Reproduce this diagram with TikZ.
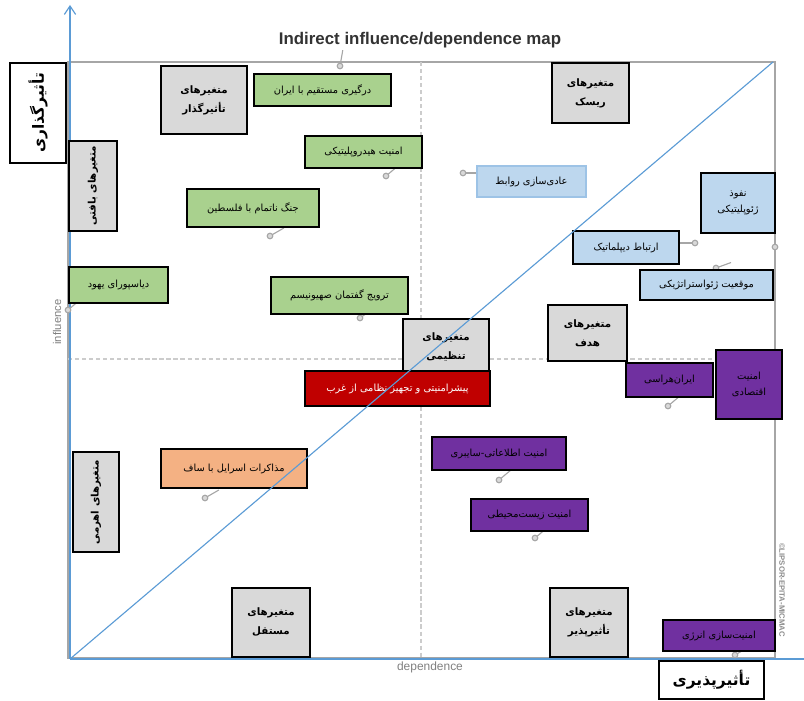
\documentclass[tikz,border=0pt]{standalone}
\usepackage{fontspec}
\setmainfont{Liberation Sans}
\newfontfamily\farsi[Script=Arabic]{DejaVu Sans}
\TeXXeTstate=1
\newcommand\fa[1]{{\farsi\beginR #1\endR}}
\usetikzlibrary{arrows.meta}
\definecolor{axisblue}{HTML}{5B9BD5}
\definecolor{framegray}{HTML}{A6A6A6}
\definecolor{boxgray}{HTML}{D9D9D9}
\definecolor{grnfill}{HTML}{A9D18E}
\definecolor{bluefill}{HTML}{BDD7EE}
\definecolor{blueedge}{HTML}{9DC3E6}
\definecolor{redfill}{HTML}{C00000}
\definecolor{orgfill}{HTML}{F4B183}
\definecolor{purfill}{HTML}{7030A0}
\begin{document}
\begin{tikzpicture}[x=0.025cm,y=-0.025cm,
    box/.style 2 args={draw=black,line width=0.9pt,minimum width=#1*0.025cm,minimum height=#2*0.025cm,
      inner sep=1pt,align=center,font=\fontsize{7}{11}\selectfont},
    cat/.style={fill=boxgray,font=\bfseries\fontsize{7.3}{13.5}\selectfont},
    grn/.style={fill=grnfill},
    blu/.style={fill=bluefill},
    pur/.style={fill=purfill},
    pin/.style={draw=gray!70,line width=0.8pt}]
\useasboundingbox (0,0) rectangle (804,701);

\node[font=\bfseries\fontsize{12}{14}\selectfont,text=black!80] (title) at (420,40) {Indirect influence/dependence map};
\node[rotate=90,font=\fontsize{8}{9}\selectfont,text=gray] (infl) at (57,322) {influence};
\node[font=\fontsize{8.5}{10}\selectfont,text=gray] (dep) at (430,667) {dependence};
\node[rotate=-90,font=\bfseries\fontsize{5.5}{6}\selectfont,text=gray!90] (wm) at (782,590) {©LIPSOR-EPITA-MICMAC};

\draw[framegray,line width=1.3pt] (68,62) rectangle (775,658);
\draw[gray!40,densely dashed,line width=0.8pt] (421,62) -- (421,658);
\draw[gray!40,densely dashed,line width=0.8pt] (68,359) -- (775,359);

\coordinate (o) at (70,659);
\coordinate (ytop) at (70,5);
\coordinate (xend) at (804,659);
\coordinate (dtop) at (773,62);
\draw[axisblue,line width=0.8pt,-{Straight Barb[length=6pt,width=8pt]}] (o) -- (ytop);
\draw[axisblue,line width=0.8pt] (o) -- (xend);

\foreach \x/\y/\a in {340/66/-80,386/176/-40,463/173/0,270/236/-30,68/310/-40,360/318/-35,
    695/243/180,775/247/-90,716/268/-20,668/406/-40,205/498/-30,499/480/-40,535/538/-40,735/655/-30}{
  \draw[pin] (\x,\y) -- ++(\a:16);
  \filldraw[pin,fill=gray!30] (\x,\y) circle[radius=0.07cm];
}

\node[box={86}{68},cat] (gozar) at (204,100) {\fa{متغیرهای}\\\fa{تأثیرگذار}};
\node[box={77}{60},cat] (risk) at (590.5,93) {\fa{متغیرهای}\\\fa{ریسک}};
\node[box={90}{48},cat,rotate=90] (bafti) at (93,186) {\fa{متغیرهای بافتی}};
\node[box={86}{55},cat] (tanzim) at (446,346.5) {\fa{متغیرهای}\\\fa{تنظیمی}};
\node[box={79}{56},cat] (hadaf) at (587.5,333) {\fa{متغیرهای}\\\fa{هدف}};
\node[box={100}{46},cat,rotate=90] (ahrami) at (96,502) {\fa{متغیرهای اهرمی}};
\node[box={78}{69},cat] (mostaghel) at (271,622.5) {\fa{متغیرهای}\\\fa{مستقل}};
\node[box={78}{69},cat] (pazir) at (589,622.5) {\fa{متغیرهای}\\\fa{تأثیرپذیر}};

\node[box={137}{32},grn] (dargiri) at (322.5,90) {\fa{درگیری مستقیم با ایران}};
\node[box={117}{32},grn] (hydro) at (363.5,152) {\fa{امنیت هیدروپلیتیکی}};
\node[box={132}{38},grn] (jang) at (253,208) {\fa{جنگ ناتمام با فلسطین}};
\node[box={137}{37},grn] (tarvij) at (339.5,295.5) {\fa{ترویج گفتمان صهیونیسم}};
\node[box={99}{36},grn] (diaspora) at (118.5,285) {\fa{دیاسپورای یهود}};

\node[box={109}{31},blu,draw=blueedge] (adi) at (531.5,181.5) {\fa{عادی‌سازی روابط}};
\node[box={74}{60},blu] (nofuz) at (738,203) {\fa{نفوذ}\\\fa{ژئوپلیتیکی}};
\node[box={106}{33},blu] (ertebat) at (626,247.5) {\fa{ارتباط دیپلماتیک}};
\node[box={133}{30},blu] (moghei) at (706.5,285) {\fa{موقعیت ژئواستراتژیکی}};

\node[box={185}{35},fill=redfill,text=white] (pishran) at (397.5,388.5) {\fa{پیشرامنیتی و تجهیز نظامی از غرب}};
\node[box={146}{39},fill=orgfill] (mozakere) at (234,468.5) {\fa{مذاکرات اسرایل با ساف}};

\node[box={87}{34},pur] (iranhar) at (669.5,380) {\fa{ایران‌هراسی}};
\node[box={66}{69},pur] (eghtesad) at (749,384.5) {\fa{امنیت}\\\fa{اقتصادی}};
\node[box={134}{33},pur] (cyber) at (499,453.5) {\fa{امنیت اطلاعاتی-سایبری}};
\node[box={117}{32},pur] (zist) at (529.5,515) {\fa{امنیت زیست‌محیطی}};
\node[box={112}{31},pur] (energy) at (719,635.5) {\fa{امنیت‌سازی انرژی}};

\node[box={100}{56},fill=white,rotate=90,font=\bfseries\fontsize{11}{13}\selectfont] (gozari) at (38,113) {\fa{تأثیرگذاری}};
\node[box={105}{38},fill=white,font=\bfseries\fontsize{11}{13}\selectfont] (paziri) at (711.5,680) {\fa{تأثیرپذیری}};

\draw[axisblue,line width=0.8pt] (o) -- (dtop);
\end{tikzpicture}
\end{document}
